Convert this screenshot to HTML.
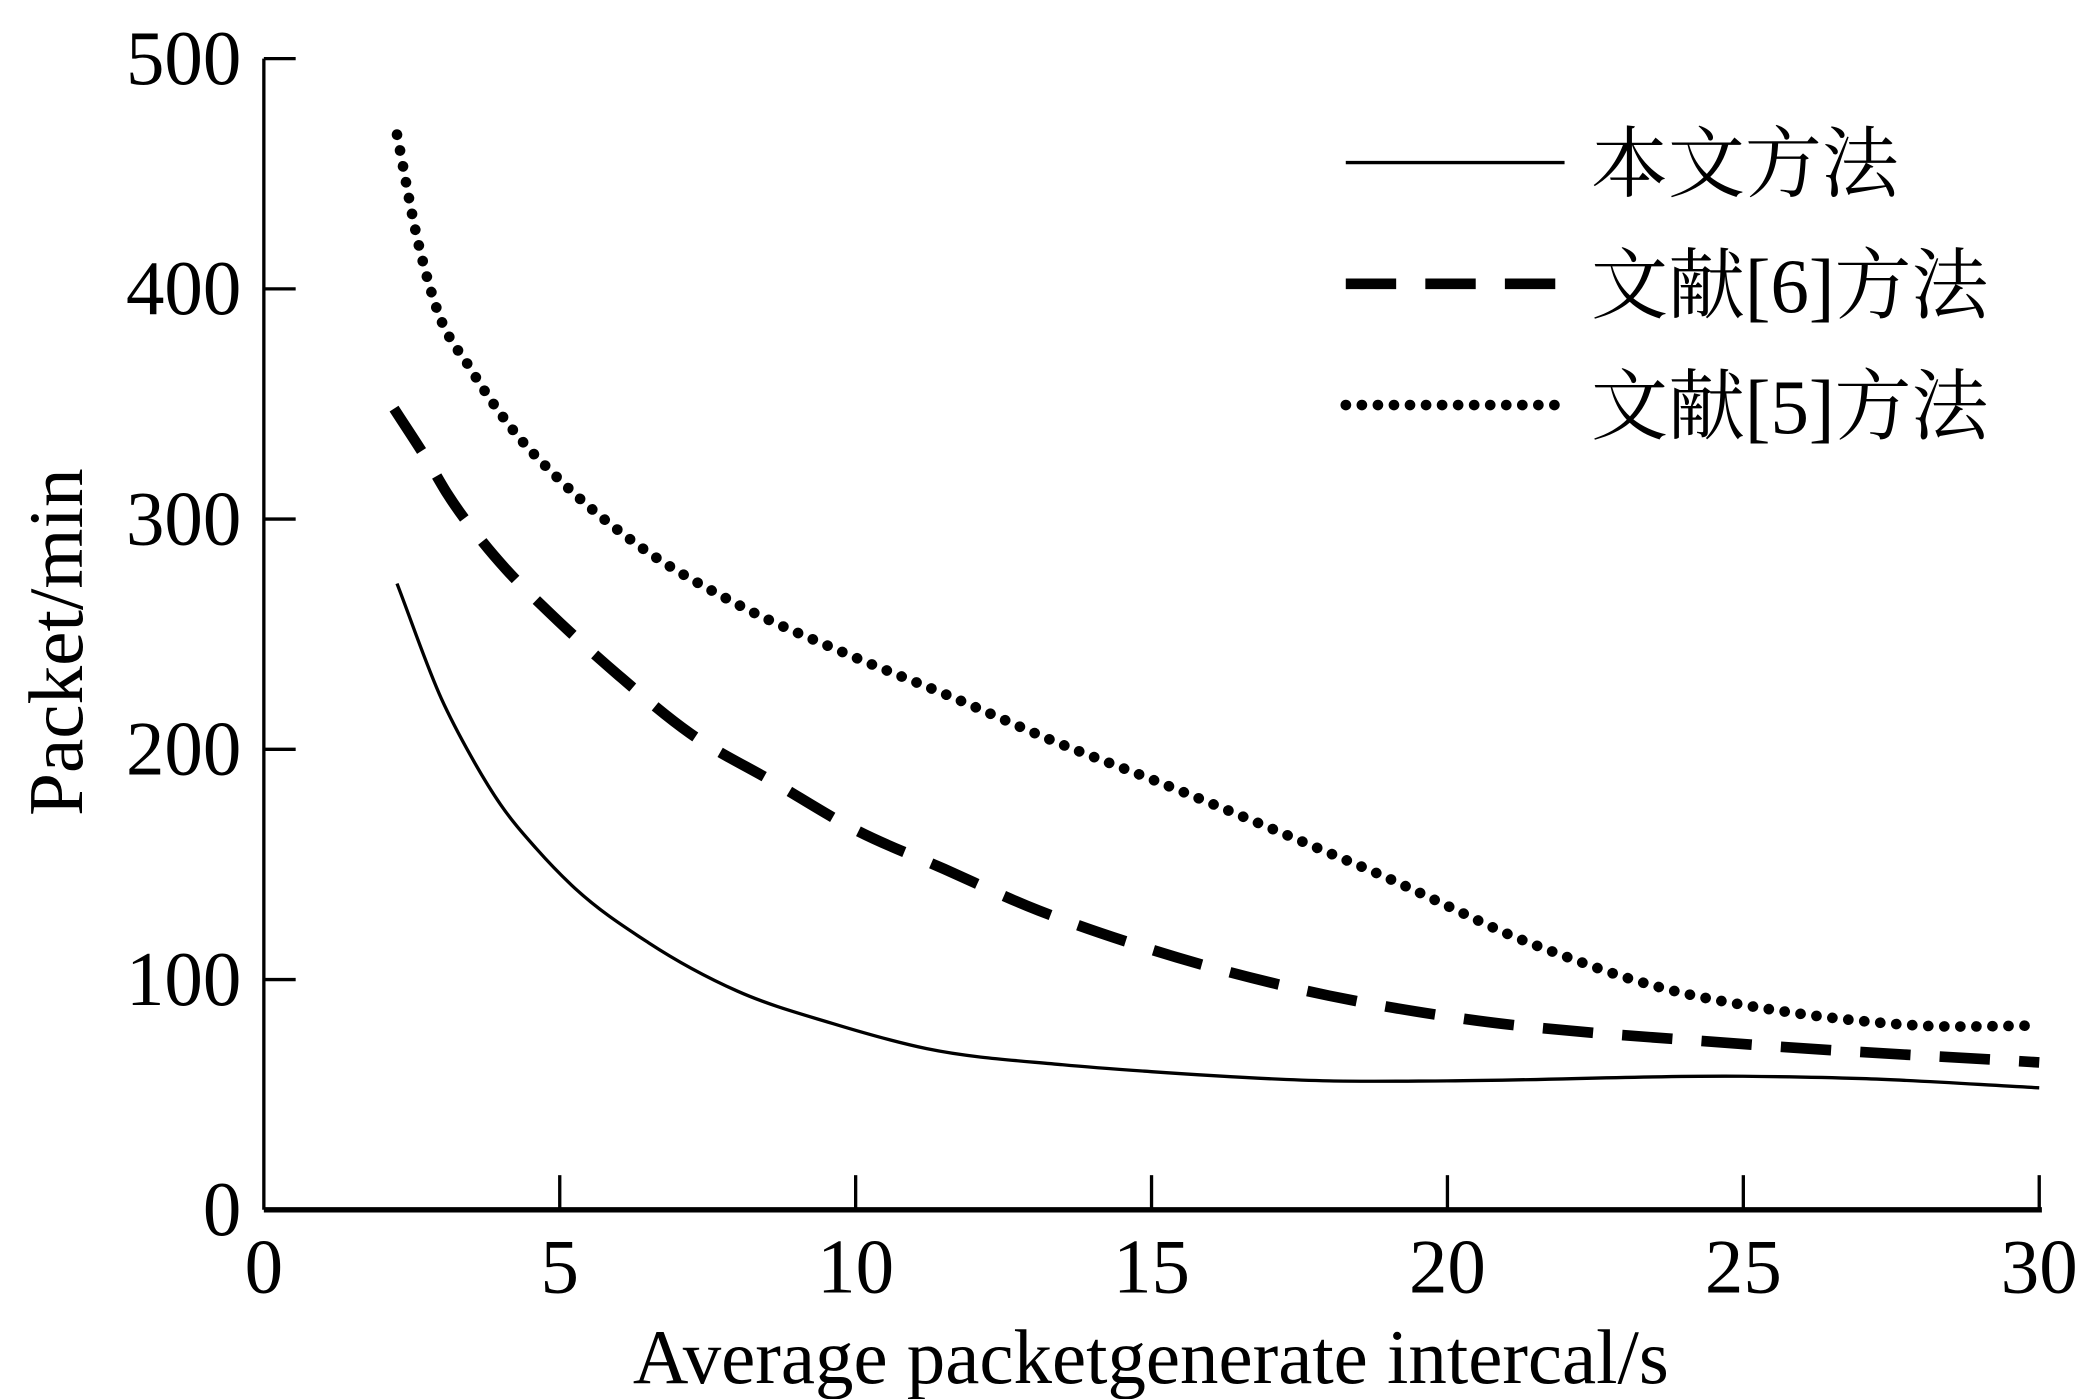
<!DOCTYPE html>
<html><head><meta charset="utf-8"><style>html,body{margin:0;padding:0;background:#fff}svg{display:block}</style></head>
<body>
<svg id="chart" width="2079" height="1399" viewBox="0 0 1568 1050" preserveAspectRatio="none" xmlns="http://www.w3.org/2000/svg" font-family="'Liberation Serif','Noto Serif CJK SC',serif">
<g id="axes"></g>
<g id="series"></g>
<g id="legend"></g>
</svg>
<script>
const xTicks = [0, 5, 10, 15, 20, 25, 30];
const yTicks = [0, 100, 200, 300, 400, 500];
const xSolid = [2.25, 3, 3.5, 4, 4.6, 5.2, 6.5, 8, 9.6, 11.2, 13.5, 15, 18, 20, 25, 27, 30];
const ySolid = [272, 222, 197, 176, 157, 141, 116, 95, 81, 70, 63, 60, 56, 56, 58, 57, 53];
const xDash = [2.2, 2.8, 3.1, 3.7, 4.1, 4.8, 6, 7.2, 8.6, 10, 11.5, 12.9, 15, 18, 20, 25, 30];
const yDash = [348, 324, 311, 290, 278, 260, 232, 207, 186, 165, 148, 132, 113, 93, 84, 72, 64];
const xDot = [2.25, 2.6, 2.9, 3.5, 4.2, 5, 6.2, 8, 9.8, 11.6, 13.4, 15, 18, 19, 20, 21, 22, 23, 24, 25, 26, 27, 28, 30];
const yDot = [467, 421, 393, 365, 339, 317, 291, 263, 242, 223, 203, 187, 155, 144, 132, 120, 110, 101, 94, 89, 85, 82, 80, 80];
const legendLabels = ['本文方法', '文献[6]方法', '文献[5]方法'];

const NS = 'http://www.w3.org/2000/svg';
const X0 = 199, X1 = 1538, Y0 = 908, Y1 = 44;
const sx = v => X0 + (v - 0) / 30 * (X1 - X0);
const sy = v => Y0 - v / 500 * (Y0 - Y1);
function mk(tag, attrs, parent, text) {
  const e = document.createElementNS(NS, tag);
  for (const k in attrs) e.setAttribute(k, attrs[k]);
  if (text !== undefined) e.textContent = text;
  parent.appendChild(e);
  return e;
}
const axes = document.getElementById('axes');
const series = document.getElementById('series');
const legend = document.getElementById('legend');

const xa = mk('line', {x1: X0, y1: Y0, x2: X1 + 2, y2: Y0, stroke: '#000', 'stroke-width': 4}, axes);


const ya = mk('line', {x1: X0, y1: Y0, x2: X0, y2: Y1, stroke: '#000', 'stroke-width': 2.5}, axes);



xTicks.forEach(v => {
  if (v > 0) {
    const t = mk('line', {x1: sx(v), y1: Y0, x2: sx(v), y2: Y0 - 26, stroke: '#000', 'stroke-width': 2.5}, axes);
    
    
  }
  const l = mk('text', {x: sx(v), y: 970, 'font-size': 58, 'text-anchor': 'middle'}, axes, String(v));
  
  
});
yTicks.forEach(v => {
  if (v > 0) {
    const t = mk('line', {x1: X0, y1: sy(v), x2: X0 + 24, y2: sy(v), stroke: '#000', 'stroke-width': 2.5}, axes);
    
    
  }
  const l = mk('text', {x: 182, y: sy(v) + 19, 'font-size': 58, 'text-anchor': 'end'}, axes, String(v));
  
  
});
const xt = mk('text', {x: 868, y: 1038, 'font-size': 58, 'text-anchor': 'middle'}, axes, 'Average packetgenerate intercal/s');


const yt = mk('text', {x: 0, y: 0, 'font-size': 58, 'text-anchor': 'middle', transform: 'translate(62,482) rotate(-90)'}, axes, 'Packet/min');



function smooth(xs, ys) {
  const n = xs.length, X = xs.map(sx), Y = ys.map(sy);
  const d = [], m = new Array(n);
  for (let i = 0; i < n - 1; i++) d.push((Y[i + 1] - Y[i]) / (X[i + 1] - X[i]));
  m[0] = d[0]; m[n - 1] = d[n - 2];
  for (let i = 1; i < n - 1; i++) {
    const h0 = X[i] - X[i - 1], h1 = X[i + 1] - X[i];
    m[i] = (d[i - 1] * h1 + d[i] * h0) / (h0 + h1);
  }
  let p = 'M' + X[0] + ',' + Y[0];
  for (let i = 0; i < n - 1; i++) {
    const h = (X[i + 1] - X[i]) / 3;
    p += ' C' + (X[i] + h) + ',' + (Y[i] + m[i] * h) + ' ' + (X[i + 1] - h) + ',' + (Y[i + 1] - m[i + 1] * h) + ' ' + X[i + 1] + ',' + Y[i + 1];
  }
  return p;
}
const styles = [
  {w: 2.5, dash: null, cap: 'butt'},
  {w: 8, dash: '38 22', cap: 'butt'},
  {w: 8, dash: '0.1 12', cap: 'round'}
];
const data = [[xSolid, ySolid], [xDash, yDash], [xDot, yDot]];
const names = ['series-proposed', 'series-ref6', 'series-ref5'];
data.forEach((s, i) => {
  const st = styles[i];
  const attrs = {d: smooth(s[0], s[1]), fill: 'none', stroke: '#000', 'stroke-width': st.w, 'stroke-linecap': st.cap};
  if (st.dash) attrs['stroke-dasharray'] = st.dash;
  const p = mk('path', attrs, series);
  
  
  const ly = [122, 213, 304][i];
  const la = {x1: 1015, y1: ly, x2: 1180, y2: ly, stroke: '#000', 'stroke-width': st.w, 'stroke-linecap': st.cap};
  if (st.dash) la['stroke-dasharray'] = st.dash;
  const ll = mk('line', la, legend);
  
  
  const lt = mk('text', {x: 1200, y: ly + 21, 'font-size': 58}, legend, legendLabels[i]);
  
  
});
</script>
</body></html>
